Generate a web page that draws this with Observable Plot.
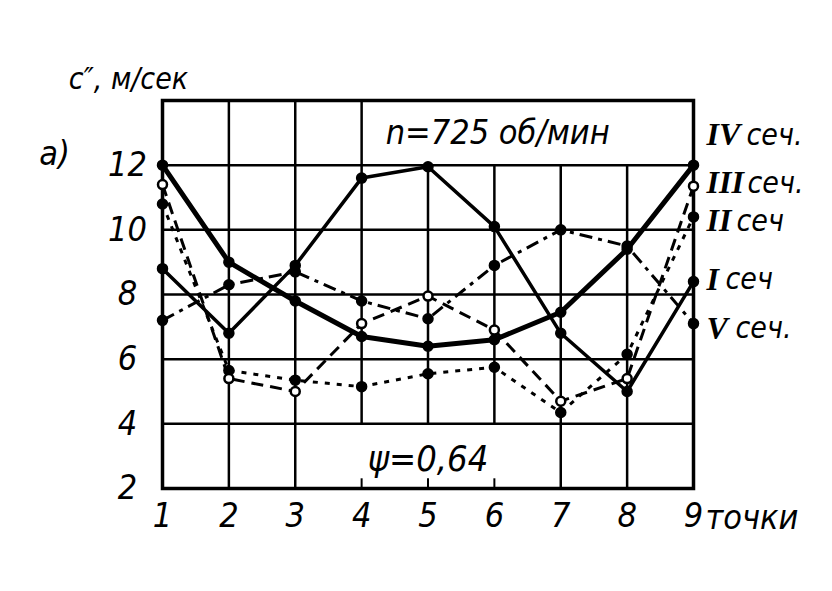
<!DOCTYPE html>
<html><head><meta charset="utf-8">
<script src="https://cdn.jsdelivr.net/npm/d3@7"></script>
<script src="https://cdn.jsdelivr.net/npm/@observablehq/plot@0.6"></script>
<style>
body{margin:0;background:#fff;}
#chart{width:832px;height:591px;}
</style></head><body><div id="chart"></div>
<script>
// ---- data ----
const points = [1, 2, 3, 4, 5, 6, 7, 8, 9];
const yTicks = [2, 4, 6, 8, 10, 12];
const sections = ["IV сеч.", "III сеч.", "II сеч", "I сеч", "V сеч."];
const secIV  = [12.0, 9.0, 7.8, 6.7, 6.4, 6.6, 7.45, 9.4, 12.0];
const secIII = [11.4, 5.4, 5.0, 7.1, 7.95, 6.9, 4.7, 5.4, 11.35];
const secII  = [10.8, 5.65, 5.35, 5.15, 5.55, 5.75, 4.35, 6.15, 10.4];
const secI   = [8.8, 6.8, 8.9, 11.6, 11.95, 10.1, 6.8, 5.0, 8.4];
const secV   = [7.2, 8.3, 8.7, 7.8, 7.25, 8.9, 10.0, 9.5, 7.1];
const speedLabel = "n=725 об/мин";
const phiLabel = "ψ=0,64";
const yLabel = "c″, м/сек";
const xLabel = "точки";
const panelLabel = "а)";

// ---- build ----
const seriesValues = [secIV, secIII, secII, secI, secV];
const rows = sections.flatMap((s, i) => points.map((p, j) => ({section: s, point: p, value: seriesValues[i][j]})));
const styleOf = {
  "IV сеч.": {strokeWidth: 5, dash: null, dy: -30},
  "III сеч.": {strokeWidth: 3, dash: "12,7", dy: -3},
  "II сеч": {strokeWidth: 3, dash: "5,7", dy: 4},
  "I сеч": {strokeWidth: 3.5, dash: null, dy: -2},
  "V сеч.": {strokeWidth: 3, dash: "13,6,4,6", dy: 5}
};
const font = "'Liberation Sans Narrow','DejaVu Sans Condensed','Roboto',sans-serif";
const romanFont = "'Liberation Serif','DejaVu Serif',serif";

const lineMarks = sections.map(s => Plot.line(rows.filter(r => r.section === s), {
  x: "point", y: "value", stroke: "black", strokeWidth: styleOf[s].strokeWidth,
  strokeDasharray: styleOf[s].dash, strokeLinejoin: "round", strokeLinecap: "butt"
}));

const endRows = sections.map((s, i) => {
  const [roman, suffix] = s.split(" ");
  return {section: s, roman, suffix, value: seriesValues[i][points.length - 1]};
});
const romanWidth = r => 8 + r.length * 11 + (r.includes("V") ? 10 : 0);

const chart = Plot.plot({
  width: 832, height: 591,
  marginLeft: 162, marginRight: 139, marginTop: 100, marginBottom: 103,
  x: {domain: [1, 9], axis: null},
  y: {domain: [2, 14], axis: null},
  style: {background: "white"},
  marks: [
    // grid
    Plot.ruleY(yTicks.filter(d => d > 2), {stroke: "black", strokeWidth: 2.5}),
    Plot.ruleX(points, {y1: 4, y2: 12, stroke: "black", strokeWidth: 2.5}),
    Plot.ruleX(points.filter(p => p <= 4), {y1: 12, y2: 14, stroke: "black", strokeWidth: 2.5}),
    Plot.ruleX(points.filter(p => p <= 3 || p >= 7), {y1: 2, y2: 4, stroke: "black", strokeWidth: 2.5}),
    Plot.ruleX(points.filter(p => p > 3 && p < 7), {y1: 2, y2: 2.3, stroke: "black", strokeWidth: 2}),
    Plot.frame({stroke: "black", strokeWidth: 3.5}),
    // series
    ...lineMarks,
    Plot.dot(rows.filter(r => r.section !== "III сеч."), {x: "point", y: "value", r: 5, fill: "black", stroke: "black"}),
    Plot.dot(rows.filter(r => r.section === "III сеч."), {x: "point", y: "value", r: 4.5, fill: "white", stroke: "black", strokeWidth: 2.5}),
    // tick labels
    Plot.text(yTicks, {y: d => d, frameAnchor: "left", dx: -35, text: d => String(d), textAnchor: "middle",
      fontSize: 34, fontStyle: "italic", fontFamily: font}),
    Plot.text(points, {x: d => d, frameAnchor: "bottom", dy: 38, text: d => String(d), textAnchor: "middle",
      fontSize: 34, fontStyle: "italic", fontFamily: font}),
    Plot.text([xLabel], {frameAnchor: "bottom-right", dx: 12, dy: 40, textAnchor: "start",
      fontSize: 34, fontStyle: "italic", fontFamily: font}),
    Plot.text([yLabel], {frameAnchor: "top-left", dx: -34, dy: -33, textAnchor: "middle",
      fontSize: 30, fontStyle: "italic", fontFamily: font}),
    Plot.text([panelLabel], {frameAnchor: "top-left", dx: -108, dy: 40, textAnchor: "middle",
      fontSize: 34, fontStyle: "italic", fontFamily: font}),
    // annotations inside
    Plot.text([speedLabel], {x: 6.05, y: 13, textAnchor: "middle",
      fontSize: 34, fontStyle: "italic", fontFamily: font}),
    Plot.text([phiLabel], {x: 5.0, y: 2.9, textAnchor: "middle",
      fontSize: 36, fontStyle: "italic", fontFamily: font}),
    // section labels
    ...endRows.map(d => Plot.text([d], {x: 9, y: "value", dx: 13, dy: styleOf[d.section].dy,
      text: "roman", textAnchor: "start", fontSize: 32, fontStyle: "italic", fontWeight: "bold", fontFamily: romanFont})),
    ...endRows.map(d => Plot.text([d], {x: 9, y: "value", dx: 13 + romanWidth(d.roman), dy: styleOf[d.section].dy,
      text: "suffix", textAnchor: "start", fontSize: 30, fontStyle: "italic", fontFamily: font}))
  ]
});
document.getElementById("chart").appendChild(chart);
</script>
</body></html>
